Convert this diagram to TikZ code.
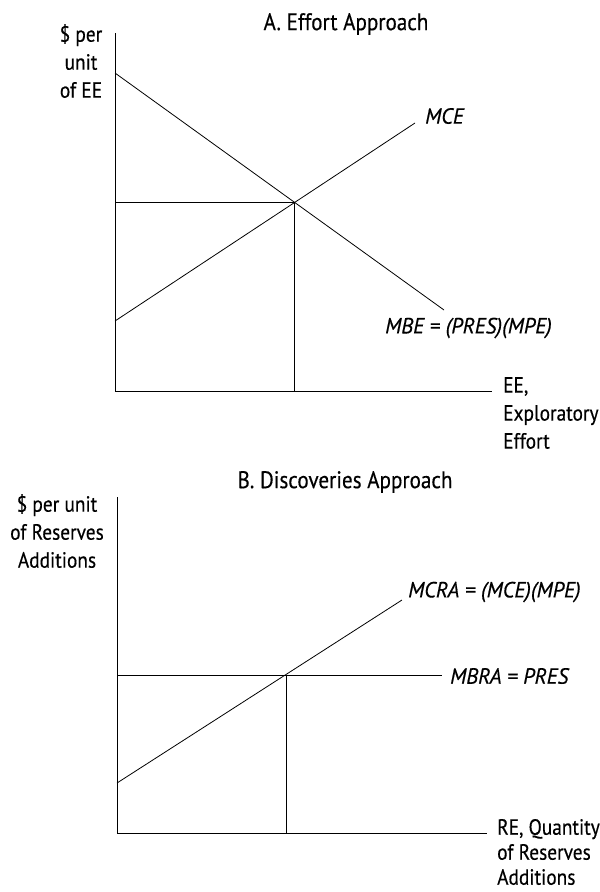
\documentclass[tikz,border=0pt]{standalone}
\usepackage{fontspec}
\setmainfont{PT Sans}[FakeStretch=0.88, FakeBold=0.4, ItalicFeatures={FakeStretch=0.97}]
\begin{document}
\begin{tikzpicture}[x=1pt,y=-1pt,
  lbl/.style={font=\fontsize{22}{28}\selectfont, inner sep=0pt},
  ilbl/.style={font=\fontsize{22}{28}\selectfont\itshape, inner sep=0pt},
  ttl/.style={font=\fontsize{24}{28}\selectfont, inner sep=0pt},
  axis/.style={line width=1pt},
  curve/.style={line width=0.8pt}]
\useasboundingbox (0,0) rectangle (600,892);
% Panel A
\coordinate (OA) at (115,391);
\coordinate (YA) at (115,33);
\coordinate (XA) at (492,391);
\coordinate (MBEs) at (115,73);
\coordinate (MBEe) at (444,310);
\coordinate (MCEs) at (115,321);
\coordinate (MCEe) at (415,123);
\coordinate (EA) at (294,202);
\coordinate (EAy) at (115,202);
\coordinate (EAx) at (294,391);
\node[ttl] (titleA) at (346,24) {A. Effort Approach};
\node[lbl, align=center] (ylabA) at (81,61) {\$ per\\unit\\of EE};
\node[ilbl, anchor=west] (mce) at (425,116) {MCE};
\node[ilbl, anchor=west] (mbe) at (385,328) {MBE = (PRES)(MPE)};
\node[lbl, align=left, anchor=west] (xlabA) at (503,413) {EE,\\Exploratory\\Effort};
\draw[axis] (YA) -- (OA) -- (XA);
\draw[curve] (MBEs) -- (MBEe);
\draw[curve] (MCEs) -- (MCEe);
\draw[curve] (EAy) -- (EA) -- (EAx);
% Panel B
\coordinate (OB) at (117,833);
\coordinate (YB) at (117,497);
\coordinate (XB) at (487,833);
\coordinate (MCRAs) at (117,783);
\coordinate (MCRAe) at (402,600);
\coordinate (MBRAs) at (117,675);
\coordinate (MBRAe) at (442,675);
\coordinate (EB) at (286,675);
\coordinate (EBx) at (286,833);
\node[ttl] (titleB) at (345,482) {B. Discoveries Approach};
\node[lbl, align=center] (ylabB) at (57,531) {\$ per unit\\of Reserves\\Additions};
\node[ilbl, anchor=west] (mcra) at (408,592) {MCRA = (MCE)(MPE)};
\node[ilbl, anchor=west] (mbra) at (450,676) {MBRA = PRES};
\node[font=\fontsize{22}{25}\selectfont, inner sep=0pt, align=left, anchor=west] (xlabB) at (497,852) {RE, Quantity\\of Reserves\\Additions};
\draw[axis] (YB) -- (OB) -- (XB);
\draw[curve] (MCRAs) -- (MCRAe);
\draw[curve] (MBRAs) -- (MBRAe);
\draw[curve] (EB) -- (EBx);
\end{tikzpicture}
\end{document}
